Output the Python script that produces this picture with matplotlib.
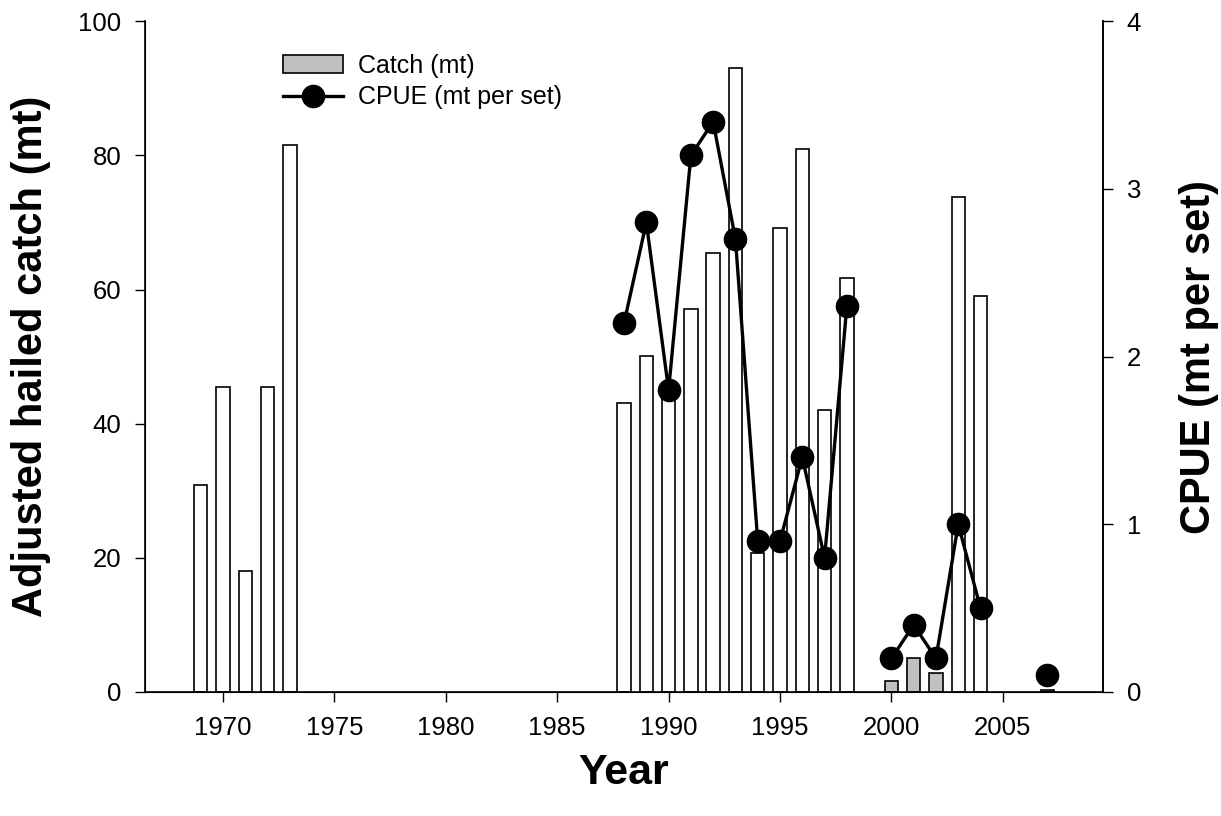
import numpy as np
import matplotlib
matplotlib.use('Agg')
import matplotlib.pyplot as plt

plt.rcParams['font.family'] = ['Liberation Sans', 'DejaVu Sans']

# hailed catch (white bars)
hail_years = [1969, 1970, 1971, 1972, 1973, 1988, 1989, 1990, 1991, 1992, 1993,
              1994, 1995, 1996, 1997, 1998, 2003, 2004]
hail_catch = [30.8, 45.4, 18.0, 45.4, 81.6, 43.1, 50.1, 46.0, 57.1, 65.4, 93.0,
              20.7, 69.1, 80.9, 42.0, 61.7, 73.8, 59.0]

# observed catch (grey bars)
catch_years = [2000, 2001, 2002, 2007]
catch_mt = [1.7, 5.0, 2.8, 0.25]

# CPUE, gaps where no data
cpue_years = [1988, 1989, 1990, 1991, 1992, 1993, 1994, 1995, 1996, 1997, 1998,
              1999, 2000, 2001, 2002, 2003, 2004, 2005, 2006, 2007]
cpue = [2.2, 2.8, 1.8, 3.2, 3.4, 2.7, 0.9, 0.9, 1.4, 0.8, 2.3,
        np.nan, 0.2, 0.4, 0.2, 1.0, 0.5, np.nan, np.nan, 0.1]

fig = plt.figure(figsize=(12.21, 8.16), dpi=100)
ax = fig.add_axes([0.1188, 0.152, 0.7846, 0.822])

ax.bar(hail_years, hail_catch, width=0.6, color='white', edgecolor='black', linewidth=1.2)
bars = ax.bar(catch_years, catch_mt, width=0.6, color='#c0c0c0', edgecolor='black',
              linewidth=1.2, label='Catch (mt)')

ax.set_xlim(1966.5, 2009.5)
ax.set_ylim(0, 100)
ax.set_xticks(range(1970, 2006, 5))
ax.set_yticks(range(0, 101, 20))
ax.spines['top'].set_visible(False)
for s in ['left', 'bottom', 'right']:
    ax.spines[s].set_linewidth(1.2)
ax.tick_params(direction='out', length=7, width=1.0, labelsize=18.5, pad=10)
ax.set_xlabel('Year', fontsize=31, fontweight='bold', labelpad=10)
ax.set_ylabel('Adjusted hailed catch (mt)', fontsize=30, fontweight='bold', labelpad=20)

ax2 = ax.twinx()
line, = ax2.plot(cpue_years, cpue, color='black', linewidth=2.4, marker='o',
                 markersize=16, label='CPUE (mt per set)')
ax2.set_ylim(0, 4)
ax2.set_yticks(range(0, 5))
ax2.spines['top'].set_visible(False)
ax2.spines['right'].set_linewidth(1.2)
ax2.tick_params(direction='out', length=7, width=1.0, labelsize=18.5, pad=10)
ax2.set_ylabel('CPUE (mt per set)', fontsize=30, fontweight='bold', labelpad=27)

ax2.legend([bars, line], ['Catch (mt)', 'CPUE (mt per set)'], loc='upper left',
           bbox_to_anchor=(0.12, 0.985), frameon=False, fontsize=18,
           handlelength=2.4, handletextpad=0.6, labelspacing=0.3)

fig.savefig('out.png', dpi=100)
